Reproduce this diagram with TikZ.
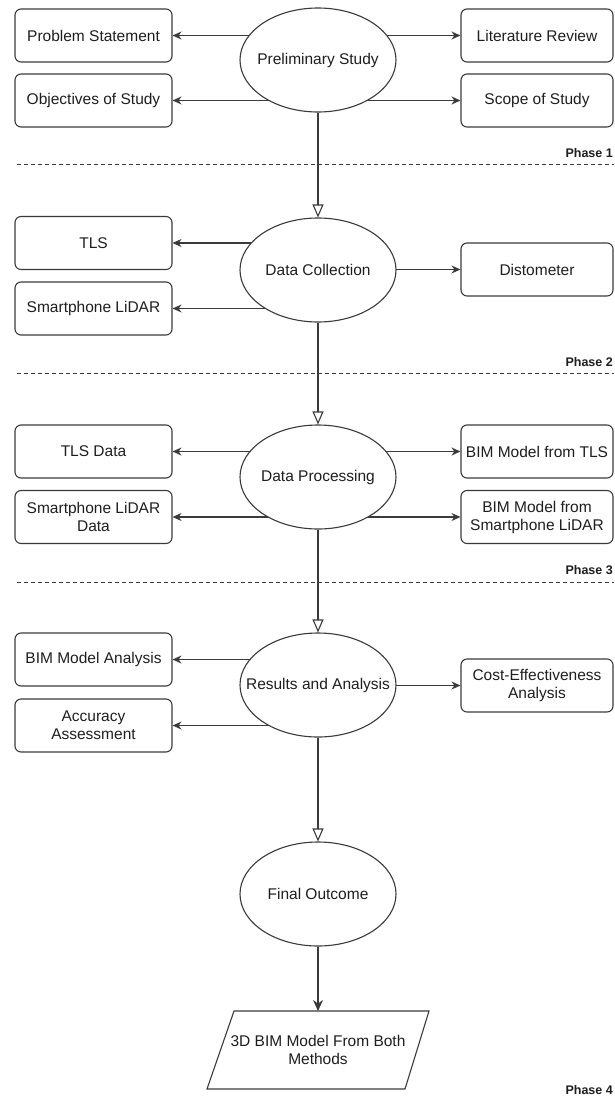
\documentclass[tikz,border=0pt]{standalone}
\usepackage{fontspec}
\setmainfont{Liberation Sans}
\usetikzlibrary{shapes.geometric,arrows.meta}
\pgfdeclarelayer{bg}
\pgfsetlayers{bg,main}
\definecolor{lc}{HTML}{3A3A3A}
\definecolor{tc}{HTML}{1E1E1E}
\newcommand{\fsmain}{\fontsize{15.5}{18}\selectfont}
\newcommand{\fsphase}{\fontsize{12.5}{14}\selectfont\bfseries}
\begin{document}
\begin{tikzpicture}[x=1pt,y=-1pt,
  lbox/.style={draw=lc, text=tc, rounded corners=6pt, line width=1.1pt, minimum width=157pt, minimum height=53pt, align=center, inner sep=2pt, font=\fsmain},
  rbox/.style={lbox, minimum width=152pt},
  ell/.style={ellipse, draw=lc, fill=white, text=tc, line width=1.1pt, minimum width=156pt, minimum height=104pt, inner sep=0pt, font=\fsmain},
  sarr/.style={draw=lc, line width=1.1pt, -{Stealth[length=9pt,width=8pt]}},
  varr/.style={draw=lc, line width=1.1pt, -{Triangle[length=13pt,width=11pt,fill=white]}},
  farr/.style={draw=lc, line width=1.1pt, -{Stealth[length=11pt,width=10pt]}},
  phaseline/.style={draw=lc, line width=1pt, dash pattern=on 4pt off 3pt},
  phase/.style={anchor=east, text=tc, inner sep=0pt, font=\fsphase},
  para/.style={draw=lc, line width=1.1pt, line join=miter}
]
\useasboundingbox (0,0) rectangle (614,1100);

% ellipses
\node[ell] (pre) at (318,60)  {\makebox[0pt]{Preliminary Study}};
\node[ell] (col) at (318,270) {\makebox[0pt]{Data Collection}};
\node[ell] (proc) at (318,477) {\makebox[0pt]{Data Processing}};
\node[ell] (res) at (318,685) {\makebox[0pt]{Results and Analysis}};
\node[ell] (fin) at (318,894) {\makebox[0pt]{Final Outcome}};

% left boxes
\node[lbox] (ps)   at (93.5,35.5)  {Problem Statement};
\node[lbox] (obj)  at (93.5,100.5) {Objectives of Study};
\node[lbox] (tls)  at (93.5,243)   {TLS};
\node[lbox] (sl)   at (93.5,308.5) {Smartphone LiDAR};
\node[lbox] (tlsd) at (93.5,451.5) {TLS Data};
\node[lbox] (sld)  at (93.5,517)   {Smartphone LiDAR\\Data};
\node[lbox] (bma)  at (93.5,659.5) {BIM Model Analysis};
\node[lbox] (acc)  at (93.5,725.5) {Accuracy\\Assessment};

% right boxes
\node[rbox] (lit)   at (537,35.5)  {Literature Review};
\node[rbox] (scope) at (537,100.5) {Scope of Study};
\node[rbox] (dist)  at (537,269.5) {Distometer};
\node[rbox] (btls)  at (537,451.5) {BIM Model from TLS};
\node[rbox] (bsl)   at (537,517)   {BIM Model from\\Smartphone LiDAR};
\node[rbox] (cost)  at (537,685.5) {Cost-Effectiveness\\Analysis};

% output parallelogram
\coordinate (pa) at (234,1011);
\coordinate (pb) at (429,1011);
\coordinate (pc) at (405,1089);
\coordinate (pd) at (207,1089);
\coordinate (ptop) at (318,1011);
\draw[para] (pa) -- (pb) -- (pc) -- (pd) -- cycle;
\node[text=tc, align=center, font=\fsmain, inner sep=0pt] (outtxt) at (318,1050) {3D BIM Model From Both\\Methods};

% phase separators
\coordinate (d1a) at (17,164);  \coordinate (d1b) at (614,164);
\coordinate (d2a) at (17,373);  \coordinate (d2b) at (614,373);
\coordinate (d3a) at (17,582);  \coordinate (d3b) at (614,582);
\draw[phaseline] (d1a) -- (d1b);
\draw[phaseline] (d2a) -- (d2b);
\draw[phaseline] (d3a) -- (d3b);
\node[phase] (ph1) at (613,153)  {Phase 1};
\node[phase] (ph2) at (613,362)  {Phase 2};
\node[phase] (ph3) at (613,570)  {Phase 3};
\node[phase] (ph4) at (613,1090) {Phase 4};

% side arrows (behind ellipses)
\begin{pgfonlayer}{bg}
\draw[sarr] (pre.center |- ps.east) -- (ps.east);
\draw[sarr] (pre.center |- obj.east) -- (obj.east);
\draw[sarr] (pre.center |- lit.west) -- (lit.west);
\draw[sarr] (pre.center |- scope.west) -- (scope.west);
\draw[sarr] (col.center |- tls.east) -- (tls.east);
\draw[sarr] (col.center |- sl.east) -- (sl.east);
\draw[sarr] (col.center |- dist.west) -- (dist.west);
\draw[sarr] (proc.center |- tlsd.east) -- (tlsd.east);
\draw[sarr] (proc.center |- sld.east) -- (sld.east);
\draw[sarr] (proc.center |- btls.west) -- (btls.west);
\draw[sarr] (proc.center |- bsl.west) -- (bsl.west);
\draw[sarr] (res.center |- bma.east) -- (bma.east);
\draw[sarr] (res.center |- acc.east) -- (acc.east);
\draw[sarr] (res.center |- cost.west) -- (cost.west);
\end{pgfonlayer}

% main flow
\draw[varr] (pre) -- (col);
\draw[varr] (col) -- (proc);
\draw[varr] (proc) -- (res);
\draw[varr] (res) -- (fin);
\draw[farr] (fin) -- (ptop);
\end{tikzpicture}
\end{document}
